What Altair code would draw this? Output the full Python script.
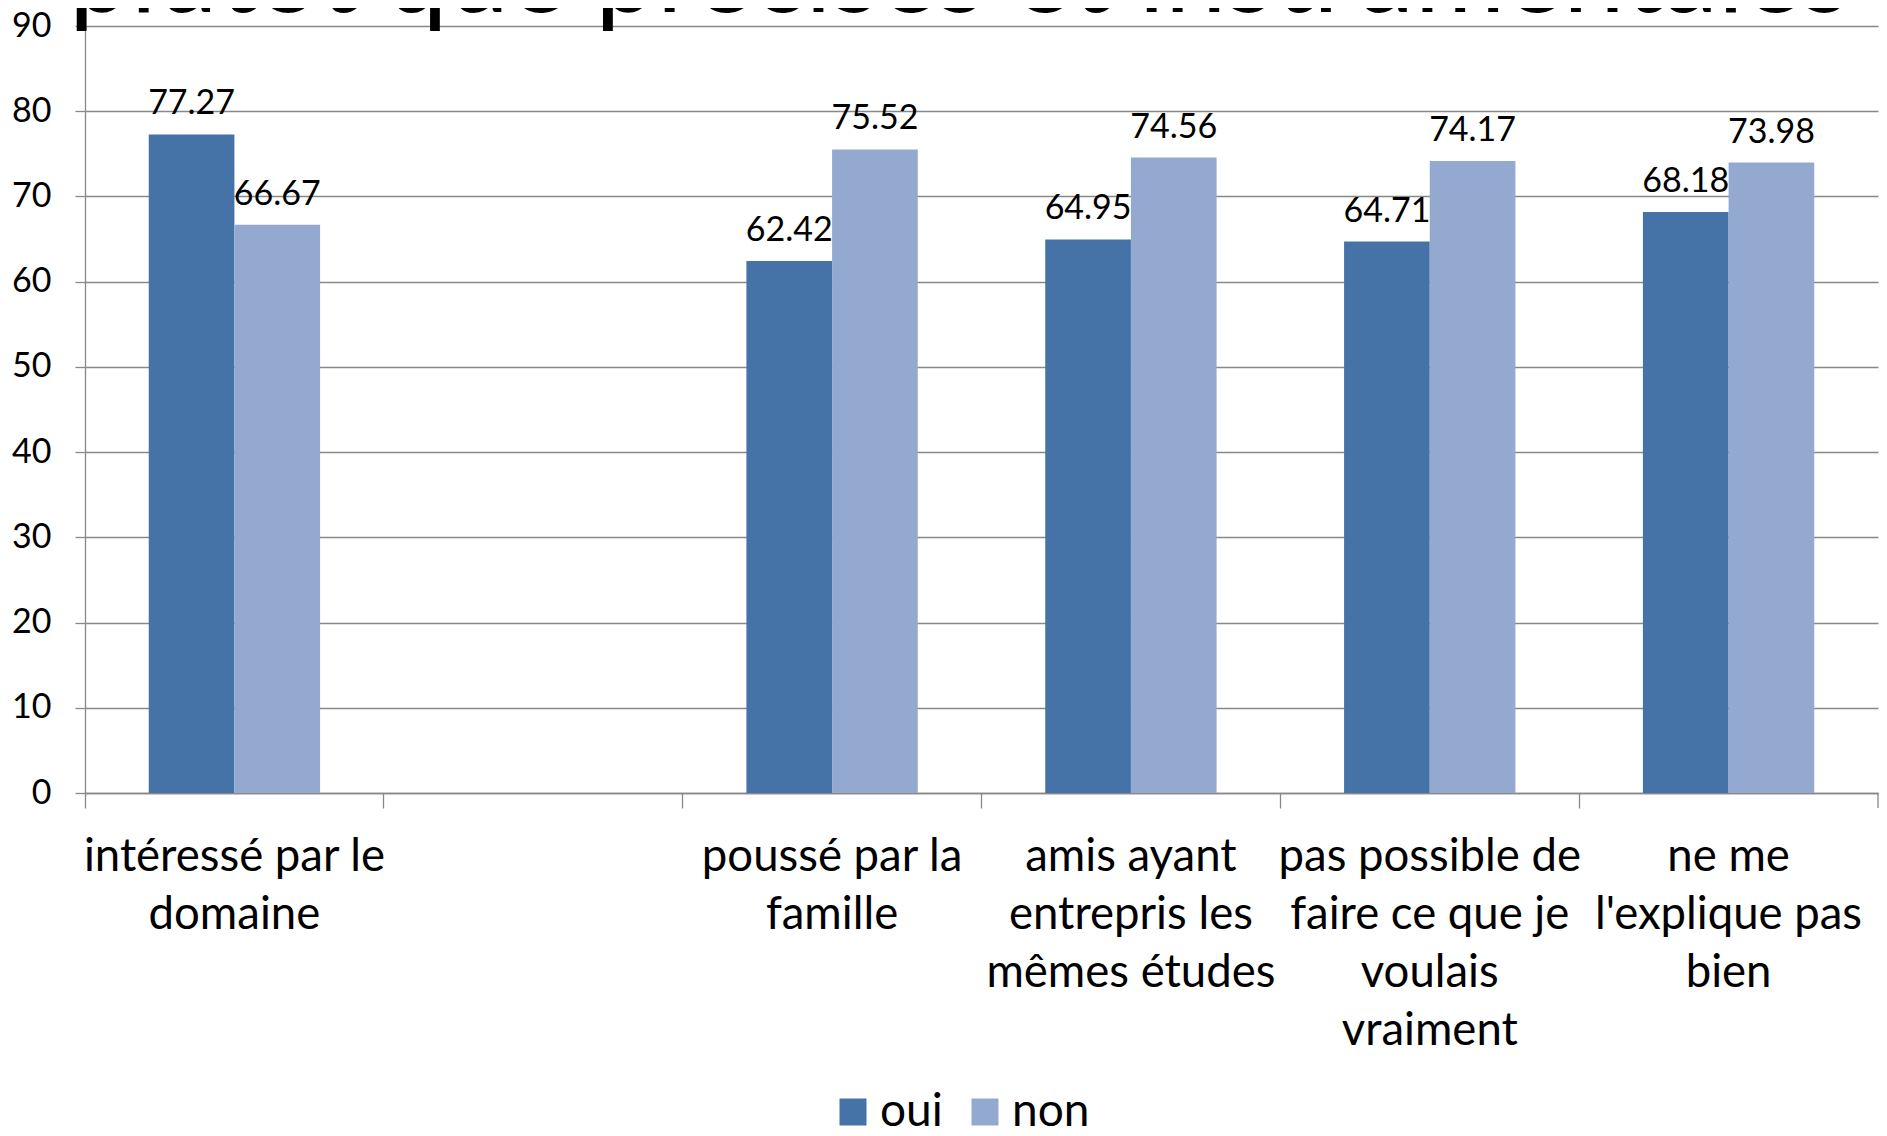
import altair as alt
import pandas as pd

# ---- data ----
categories = [
    "intéressé par le|domaine",
    " ",
    "poussé par la|famille",
    "amis ayant|entrepris les|mêmes études",
    "pas possible de|faire ce que je|voulais|vraiment",
    "ne me|l'explique pas|bien",
]
series = ["oui", "non"]
oui_values = [77.27, None, 62.42, 64.95, 64.71, 68.18]
non_values = [66.67, None, 75.52, 74.56, 74.17, 73.98]
y_ticks = [0, 10, 20, 30, 40, 50, 60, 70, 80, 90]
title_text = "plutôt que précises et instrumentales"
colors = ["#4673A7", "#94A9D0"]

rows = []
for c, o, n in zip(categories, oui_values, non_values):
    if o is not None:
        rows.append({"cat": c, "serie": "oui", "value": o})
    if n is not None:
        rows.append({"cat": c, "serie": "non", "value": n})
df = pd.DataFrame(rows)
df["label"] = df["value"].map(lambda v: f"{v:.2f}")

FONT = "Lato"
GRAY = "#888888"
W, H = 1793, 767

x_enc = alt.X(
    "cat:N",
    sort=categories,
    scale=alt.Scale(domain=categories, paddingInner=0, paddingOuter=0),
    axis=alt.Axis(
        title=None,
        labelAngle=0,
        labelExpr="split(datum.label, '|')",
        labelFontSize=45.5,
        labelFont=FONT,
        labelColor="black",
        labelLineHeight=58,
        labelBaseline="alphabetic",
        labelPadding=62,
        labelLimit=600,
        labelOverlap=False,
        labelBound=False,
        labelFlush=False,
        bandPosition=0,
        tickSize=15,
        tickColor=GRAY,
        tickWidth=1.3,
        domainColor=GRAY,
        domainWidth=1.3,
        grid=False,
    ),
)
xoff_enc = alt.XOffset(
    "serie:N",
    sort=series,
    scale=alt.Scale(domain=series, paddingInner=0, paddingOuter=0.744),
)
y_enc = alt.Y(
    "value:Q",
    scale=alt.Scale(domain=[0, 90], nice=False),
    axis=alt.Axis(
        title=None,
        values=y_ticks,
        labelFontSize=34,
        labelFont=FONT,
        labelColor="black",
        labelPadding=24,
        tickSize=10,
        tickColor=GRAY,
        tickWidth=1.3,
        domainColor=GRAY,
        domainWidth=1.3,
        gridColor=GRAY,
        gridWidth=1.3,
    ),
)

base = alt.Chart(df)

bars = base.mark_bar().encode(
    x=x_enc,
    xOffset=xoff_enc,
    y=y_enc,
    color=alt.Color(
        "serie:N",
        sort=series,
        scale=alt.Scale(domain=series, range=colors),
        legend=alt.Legend(
            title=None,
            orient="none",
            legendX=745,
            legendY=1063,
            direction="horizontal",
            symbolType="square",
            symbolSize=729,
            symbolStrokeWidth=0,
            labelFontSize=46,
            labelFont=FONT,
            labelColor="black",
            labelOffset=4,
            columnPadding=19,
            padding=0,
        ),
    ),
)

labels = base.mark_text(
    baseline="alphabetic", dy=-20, fontSize=34, font=FONT, color="black"
).encode(x=x_enc, xOffset=xoff_enc, y=y_enc, text="label:N")

title_layer = alt.Chart(pd.DataFrame({"t": [title_text]})).mark_text(
    align="left", baseline="alphabetic", fontSize=110, font=FONT, color="black"
).encode(text="t:N", x=alt.value(-16), y=alt.value(-14))

end_tick = alt.Chart(pd.DataFrame({"t": [0]})).mark_rule(
    color=GRAY, strokeWidth=1.3
).encode(x=alt.value(W), y=alt.value(H), y2=alt.value(H + 15))

chart = (
    alt.layer(bars, labels, end_tick, title_layer)
    .properties(
        width=W,
        height=H,
        autosize=alt.AutoSizeParams(type="none"),
        padding={"left": 77, "top": 18, "right": 1, "bottom": 335},
    )
    .configure_view(stroke=None)
)

chart.save("out.html", embed_options={"renderer": "svg", "actions": False})
